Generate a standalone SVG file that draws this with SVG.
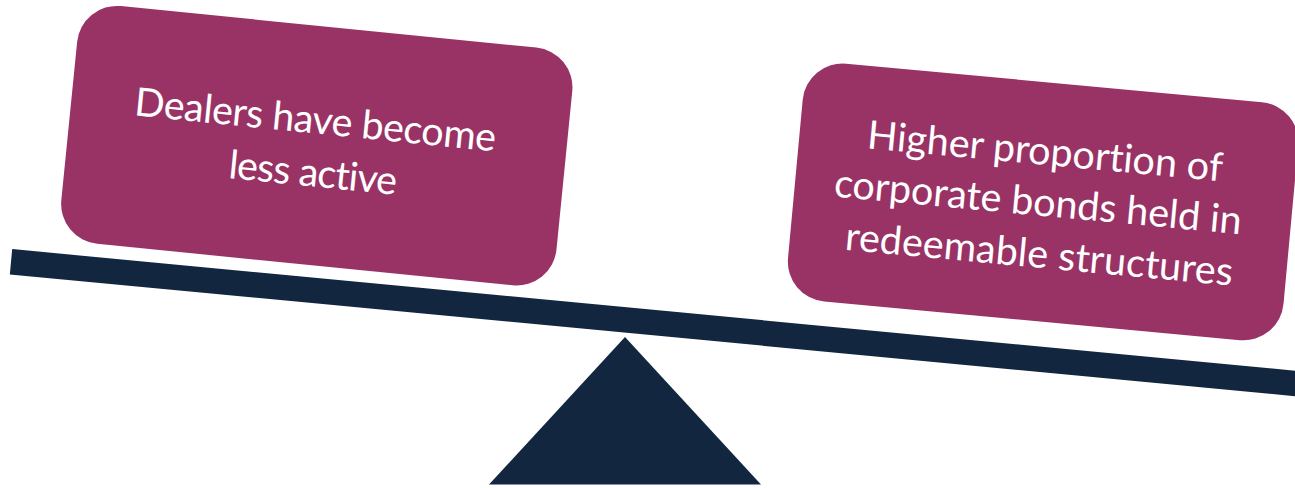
<svg xmlns="http://www.w3.org/2000/svg" width="1295" height="488" viewBox="0 0 1295 488">
  <style>
    .card { fill: #993366; }
    .base { fill: #12263f; }
    .label { fill: #ffffff; font-family: Lato, "Open Sans", "Liberation Sans", sans-serif; font-size: 39.5px; text-anchor: middle; font-variant-ligatures: none; }
  </style>
  <rect width="1295" height="488" fill="#ffffff"/>

  <!-- lever: tilted beam resting on a fulcrum -->
  <g id="lever">
    <polygon class="base" points="12.2,249.1 1300,371.1 1300,396.6 9.8,274.4"/>
    <polygon class="base" points="625,337 489,484.5 761,484.5"/>
  </g>

  <!-- left weight -->
  <g id="dealers" transform="translate(316.8,145.7) rotate(5.7)">
    <rect class="card" x="-248.8" y="-119.45" width="497.6" height="238.9" rx="40" ry="40"/>
    <text class="label">
      <tspan x="1" y="-12" textLength="363">Dealers have become</tspan>
      <tspan x="-1" y="41" textLength="169">less active</tspan>
    </text>
  </g>

  <!-- right weight -->
  <g id="redeemable" transform="translate(1043.1,201.9) rotate(5.3)">
    <rect class="card" x="-248.8" y="-119.45" width="497.6" height="238.9" rx="40" ry="40"/>
    <text class="label">
      <tspan x="2" y="-37" textLength="356">Higher proportion of</tspan>
      <tspan x="0" y="14" textLength="409">corporate bonds held in</tspan>
      <tspan x="1" y="66" textLength="389">redeemable structures</tspan>
    </text>
  </g>
</svg>
